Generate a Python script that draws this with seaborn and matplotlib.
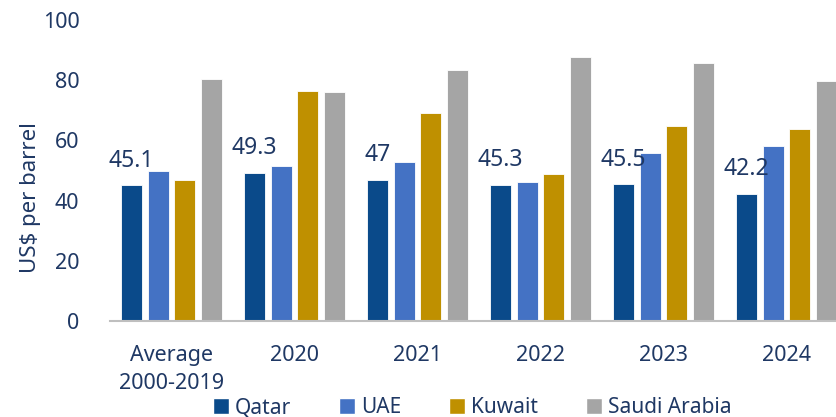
import pandas as pd
import seaborn as sns
import matplotlib.pyplot as plt
from matplotlib.patches import Patch

periods = ['Average\n2000-2019', '2020', '2021', '2022', '2023', '2024']
countries = ['Qatar', 'UAE', 'Kuwait', 'Saudi Arabia']
qatar = [45.1, 49.3, 47.0, 45.3, 45.5, 42.2]
uae = [49.8, 51.6, 52.8, 46.3, 55.8, 58.1]
kuwait = [46.7, 76.5, 69.0, 48.8, 64.7, 63.7]
saudi = [80.3, 76.2, 83.5, 87.8, 85.8, 79.6]
colors = ['#0A4A8A', '#4472C4', '#BF9000', '#A5A5A5']
text_color = '#1F3864'

df = pd.DataFrame({'Period': periods * 4,
                   'Country': [c for c in countries for _ in periods],
                   'Value': qatar + uae + kuwait + saudi})

sns.set_style('white')
plt.rcParams['font.family'] = ['Noto Sans', 'DejaVu Sans']

fig = plt.figure(figsize=(8.36, 4.17), dpi=100)
ax = fig.add_axes([110 / 836, 96 / 417, 738 / 836, 301 / 417])

sns.barplot(data=df, x='Period', y='Value', hue='Country', order=periods,
            hue_order=countries, palette=colors, saturation=1, width=0.868,
            gap=0.21, edgecolor='white', linewidth=0.6, legend=False, ax=ax)

ax.bar_label(ax.containers[0], fmt='%g', padding=9, fontsize=16.5,
             color=text_color)

ax.set_xlim(-0.5, 5.5)
ax.set_ylim(0, 100)
ax.set_yticks(range(0, 101, 20))
ax.set_xlabel('')
ax.set_ylabel('US$ per barrel', fontsize=16, color=text_color)
ax.yaxis.set_label_coords(-0.093, 0.41)
ax.tick_params(axis='both', labelsize=15.5, colors=text_color, length=0)
ax.tick_params(axis='x', pad=17)
ax.tick_params(axis='y', pad=22)
for lbl in ax.get_xticklabels():
    lbl.set_linespacing(1.45)
for s in ['top', 'right', 'left']:
    ax.spines[s].set_visible(False)
ax.spines['bottom'].set_color('#BFBFBF')
ax.spines['bottom'].set_linewidth(1.5)

handles = [Patch(facecolor=c, label=n) for c, n in zip(colors, countries)]
fig.legend(handles=handles, loc='center', bbox_to_anchor=(0.565, 0.022),
           ncol=4, frameon=False, fontsize=15, handlelength=0.75,
           handleheight=0.75, handletextpad=0.3, columnspacing=2.3,
           labelcolor=text_color)

fig.savefig('out.png', dpi=100)
